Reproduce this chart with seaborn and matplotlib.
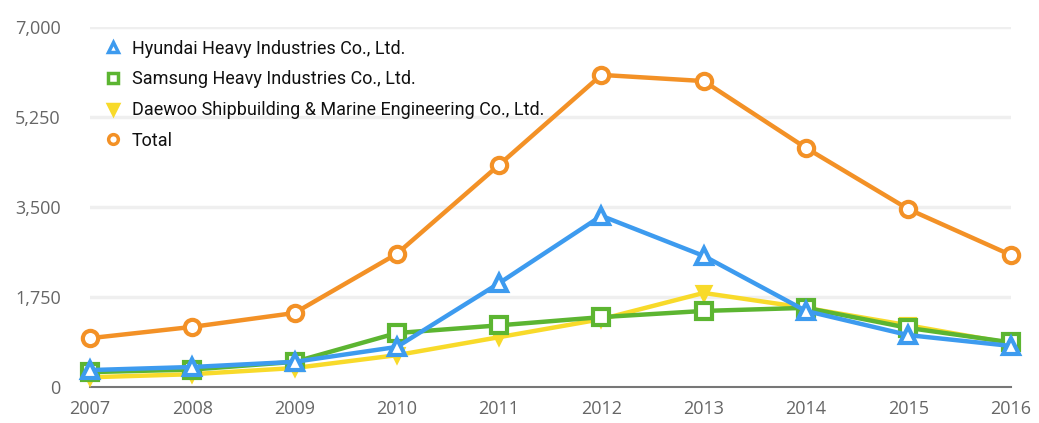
import numpy as np
import pandas as pd
import seaborn as sns
import matplotlib
matplotlib.use("Agg")
import matplotlib.pyplot as plt
from matplotlib.lines import Line2D

years = [2007, 2008, 2009, 2010, 2011, 2012, 2013, 2014, 2015, 2016]
hyundai = [330, 390, 490, 780, 2020, 3330, 2550, 1480, 1010, 800]
samsung = [290, 340, 490, 1050, 1200, 1360, 1480, 1540, 1150, 870]
daewoo = [190, 250, 370, 620, 970, 1320, 1830, 1540, 1200, 850]
total = [950, 1170, 1440, 2590, 4320, 6070, 5950, 4650, 3460, 2570]

series_names = ["Hyundai Heavy Industries Co., Ltd.",
                "Samsung Heavy Industries Co., Ltd.",
                "Daewoo Shipbuilding & Marine Engineering Co., Ltd.",
                "Total"]
y_ticks = [0, 1750, 3500, 5250, 7000]
y_tick_labels = ["0", "1,750", "3,500", "5,250", "7,000"]

colors = {series_names[0]: "#3d9bef",
          series_names[1]: "#5cb531",
          series_names[2]: "#f8da2a",
          series_names[3]: "#f39126"}
markers = {series_names[0]: "^", series_names[1]: "s",
           series_names[2]: "v", series_names[3]: "o"}
filled = {series_names[0]: False, series_names[1]: False,
          series_names[2]: True, series_names[3]: False}

df = pd.DataFrame({"year": years * 4,
                   "value": hyundai + samsung + daewoo + total,
                   "series": sum([[n] * len(years) for n in series_names], [])})

sns.set_theme(style="white")
fig = plt.figure(figsize=(10.39, 4.23), dpi=100)
ax = fig.add_axes([0.0866, 0.085, 0.886, 0.851])

draw_order = [series_names[3], series_names[2], series_names[1], series_names[0]]
for z, name in enumerate(draw_order):
    sub = df[df["series"] == name]
    c = colors[name]
    sns.lineplot(data=sub, x="year", y="value", ax=ax, color=c, linewidth=3.2,
                 marker=markers[name], markersize=9 if filled[name] else 11,
                 markerfacecolor=(c if filled[name] else "white"),
                 markeredgecolor=c, markeredgewidth=3, clip_on=False,
                 zorder=3 + z, legend=False)

ax.set_xlim(2007, 2016)
ax.set_ylim(0, 7000)
ax.set_xticks(years)
ax.set_xticklabels([str(y) for y in years])
ax.set_yticks(y_ticks)
ax.set_yticklabels(y_tick_labels)
ax.set_xlabel("")
ax.set_ylabel("")
for yt in y_ticks[1:]:
    ax.axhline(yt, color="#efefef", linewidth=2.5, zorder=1)
for s in ["top", "right", "left"]:
    ax.spines[s].set_visible(False)
ax.spines["bottom"].set_color("#777777")
ax.spines["bottom"].set_linewidth(1.5)
ax.tick_params(axis="both", length=0, labelsize=13, labelcolor="#666666")
ax.tick_params(axis="y", pad=21)
ax.tick_params(axis="x", pad=9)
for lab in ax.get_xticklabels() + ax.get_yticklabels():
    lab.set_fontfamily(["Open Sans", "DejaVu Sans"])

handles = [Line2D([], [], linestyle="none", marker=markers[n], markersize=7,
                  markerfacecolor=(colors[n] if filled[n] else "white"),
                  markeredgecolor=colors[n], markeredgewidth=2.5)
           for n in series_names]
leg = ax.legend(handles, series_names, loc="upper left",
                bbox_to_anchor=(0.0, 1.01), frameon=False,
                prop={"family": ["Roboto", "DejaVu Sans"], "size": 13},
                handlelength=0.8, handletextpad=0.6, labelspacing=0.7)
for t in leg.get_texts():
    t.set_color("#111111")

fig.savefig("out.png", dpi=100)
